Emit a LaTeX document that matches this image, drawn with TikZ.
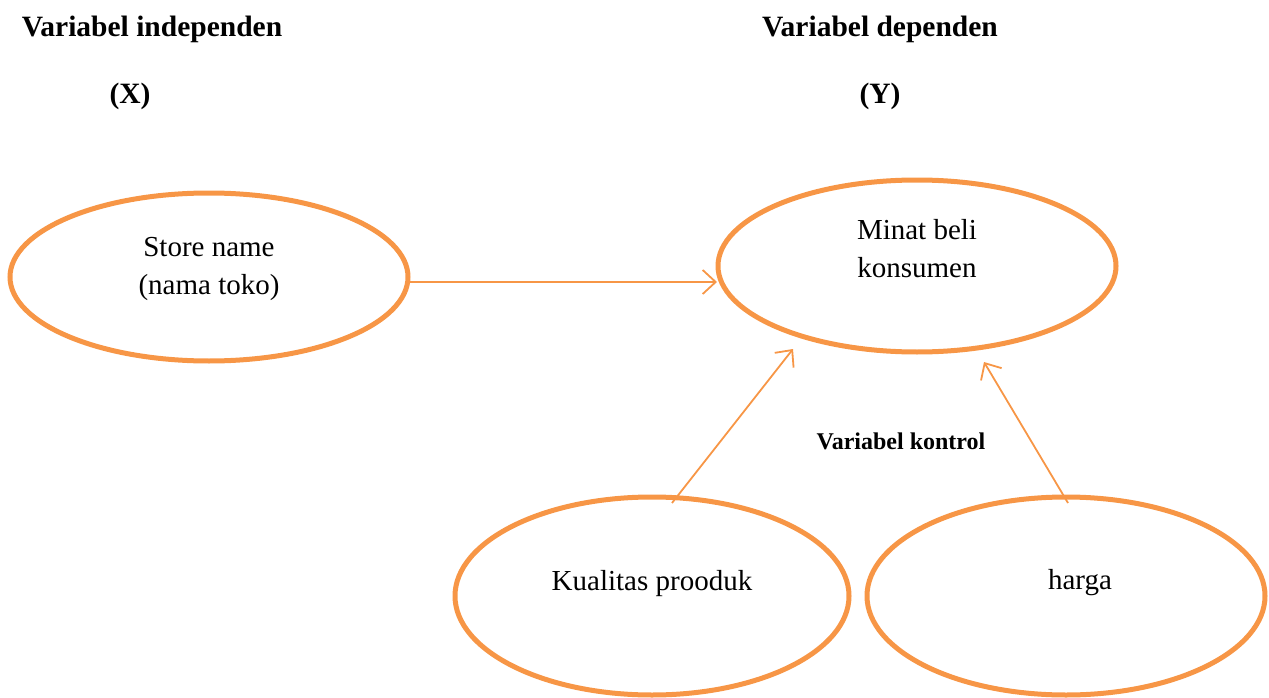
\documentclass[tikz,border=0pt]{standalone}
\usepackage{fontspec}
\setmainfont{Liberation Serif}
\usetikzlibrary{arrows.meta}
\definecolor{orng}{HTML}{F79646}
\tikzset{
  ellline/.style={draw=orng,line width=5pt},
  conn/.style={draw=orng,line width=1.8pt,-{Straight Barb[length=13pt,width=24pt,line width=1.8pt]}},
  lbl/.style={font=\fontsize{29}{38}\selectfont,align=center},
  ttl/.style={font=\fontsize{29.5}{36}\selectfont\bfseries},
}
\begin{document}
\begin{tikzpicture}[x=1pt,y=-1pt]
\useasboundingbox (0,0) rectangle (1269,698);
\draw[ellline] (209,277) ellipse [x radius=199,y radius=84];
\draw[ellline] (917,266) ellipse [x radius=199,y radius=86];
\draw[ellline] (652,596) ellipse [x radius=197,y radius=99];
\draw[ellline] (1066,596) ellipse [x radius=199,y radius=99];
\coordinate (s1) at (408,282);
\coordinate (m1) at (717,282);
\coordinate (k1) at (672,503);
\coordinate (m2) at (793,349);
\coordinate (h1) at (1068,503);
\coordinate (m3) at (984,362);
\draw[conn] (s1) -- (m1);
\draw[conn] (k1) -- (m2);
\draw[conn] (h1) -- (m3);
\node[ttl] (t1) at (152,29) {Variabel independen};
\node[ttl] (t2) at (130,96) {(X)};
\node[ttl] (t3) at (880,29) {Variabel dependen};
\node[ttl] (t4) at (880,96) {(Y)};
\node[lbl] (s) at (209,269) {Store name\\(nama toko)};
\node[lbl] (m) at (917,249) {Minat beli\\konsumen};
\node[font=\fontsize{24}{28}\selectfont\bfseries] (vk) at (901,441) {Variabel kontrol};
\node[lbl] (k) at (652,584) {Kualitas prooduk};
\node[lbl] (h) at (1080,583) {harga};
\end{tikzpicture}
\end{document}
